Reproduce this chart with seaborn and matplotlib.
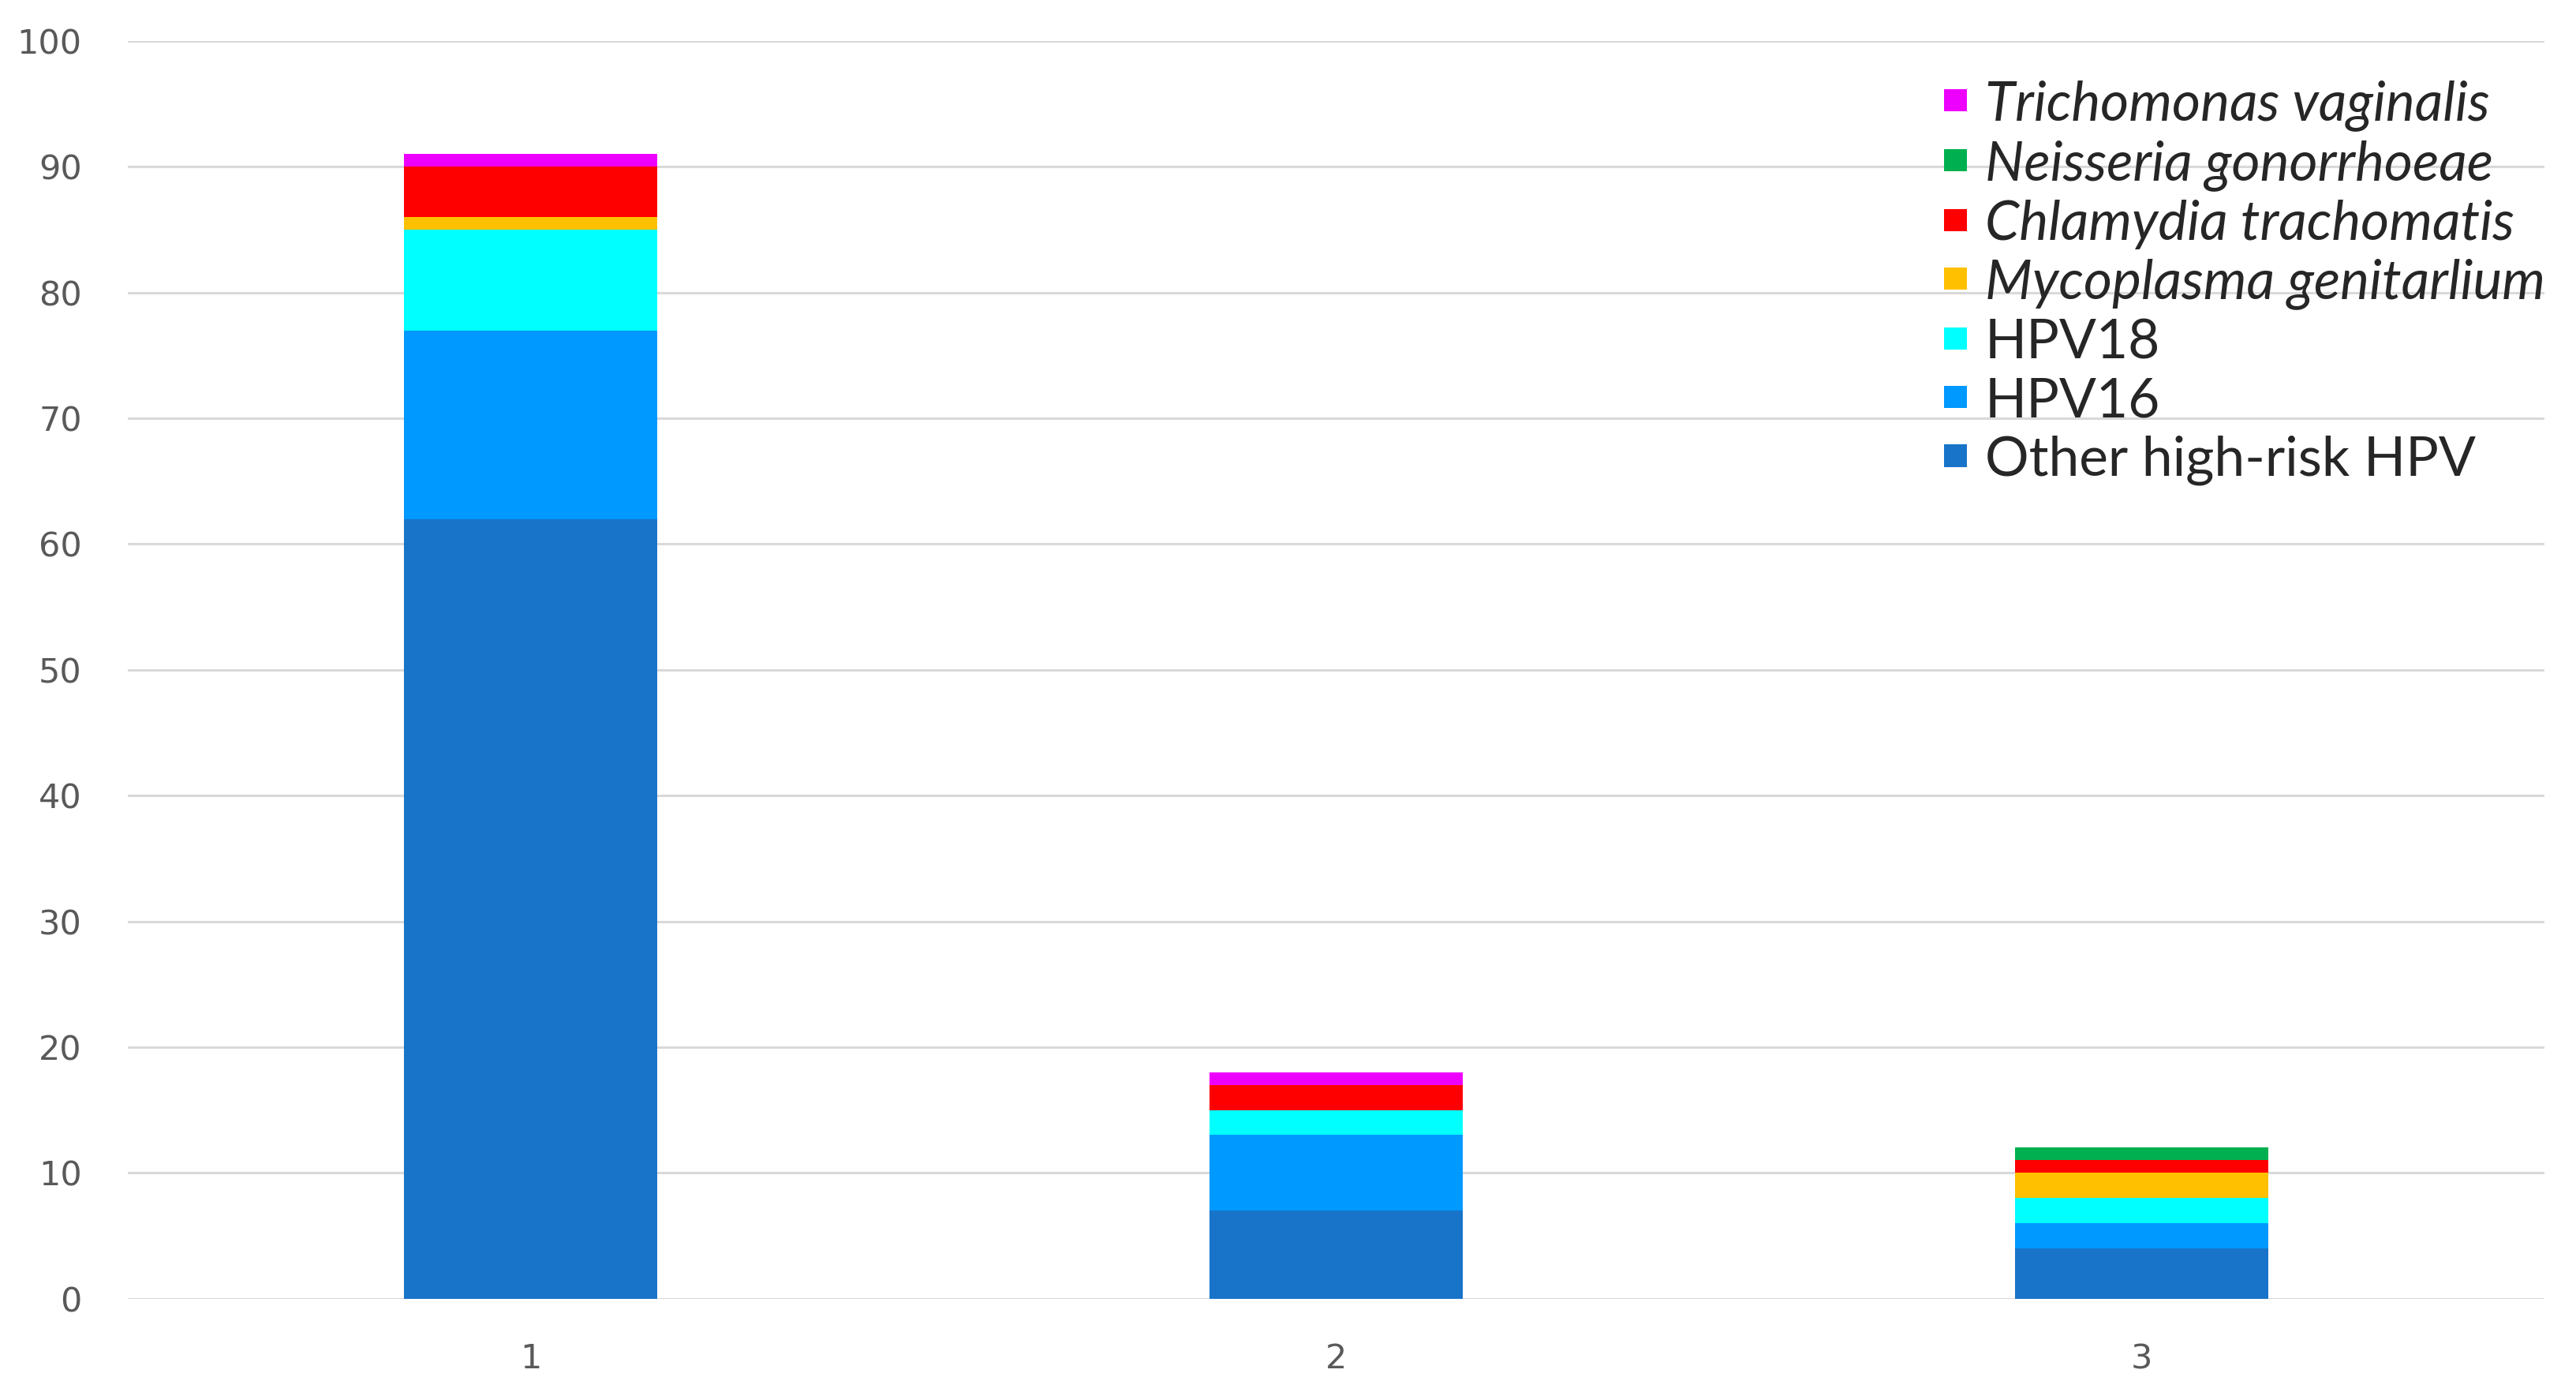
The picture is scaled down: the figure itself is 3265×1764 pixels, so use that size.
import numpy as np
import pandas as pd
import matplotlib
matplotlib.use("Agg")
import matplotlib.pyplot as plt
import seaborn as sns
from matplotlib.patches import Patch

# Data
groups = ["1", "2", "3"]
series = ["Other high-risk HPV", "HPV16", "HPV18", "Mycoplasma genitarlium",
          "Chlamydia trachomatis", "Neisseria gonorrhoeae", "Trichomonas vaginalis"]
other_hr_hpv = [62, 7, 4]
hpv16 = [15, 6, 2]
hpv18 = [8, 2, 2]
mycoplasma = [1, 0, 2]
chlamydia = [4, 2, 1]
neisseria = [0, 0, 1]
trichomonas = [1, 1, 0]
colors = ["#1874C9", "#0099FF", "#00FFFF", "#FFC000", "#FF0000", "#00B050", "#EE00FF"]
italic = [False, False, False, True, True, True, True]

values = [other_hr_hpv, hpv16, hpv18, mycoplasma, chlamydia, neisseria, trichomonas]
cum = np.cumsum(np.array(values), axis=0)

sns.set_theme(style="white")
plt.rcParams['font.family'] = ['DejaVu Sans']

fig = plt.figure(figsize=(32.66, 17.64), dpi=100)
ax = fig.add_axes([0.0496, 0.0671, 0.9378, 0.9034])

# draw cumulative totals from the top layer down so lower layers cover them
for i in range(len(series) - 1, -1, -1):
    df = pd.DataFrame({"group": groups, "total": cum[i]})
    sns.barplot(data=df, x="group", y="total", color=colors[i], width=0.314,
                saturation=1, ax=ax, zorder=3, linewidth=0)

ax.set_xlim(-0.5, 2.5)
ax.set_ylim(0, 100)
ax.set_yticks(range(0, 101, 10))
ax.yaxis.grid(True, color="#D9D9D9", linewidth=2.2, zorder=0)
ax.set_axisbelow(True)
for s in ax.spines.values():
    s.set_visible(False)
ax.axhline(0, color="#D9D9D9", linewidth=2.2, zorder=1)
ax.set_xlabel("")
ax.set_ylabel("")
ax.tick_params(axis="both", length=0, labelsize=31, colors="#595959")
ax.tick_params(axis="y", pad=42)
ax.tick_params(axis="x", pad=40)

handles = [Patch(facecolor=colors[i], edgecolor="none") for i in range(len(series) - 1, -1, -1)]
labels = [series[i] for i in range(len(series) - 1, -1, -1)]
leg = fig.legend(handles, labels, loc="upper left", bbox_to_anchor=(0.746, 0.9585),
                 frameon=False, prop={"family": "Lato", "size": 50},
                 handlelength=0.42, handleheight=0.26, handletextpad=0.32,
                 labelspacing=0.16, borderaxespad=0)
for t, i in zip(leg.get_texts(), range(len(series) - 1, -1, -1)):
    if italic[i]:
        t.set_style("italic")

fig.savefig("out.png", dpi=100)
